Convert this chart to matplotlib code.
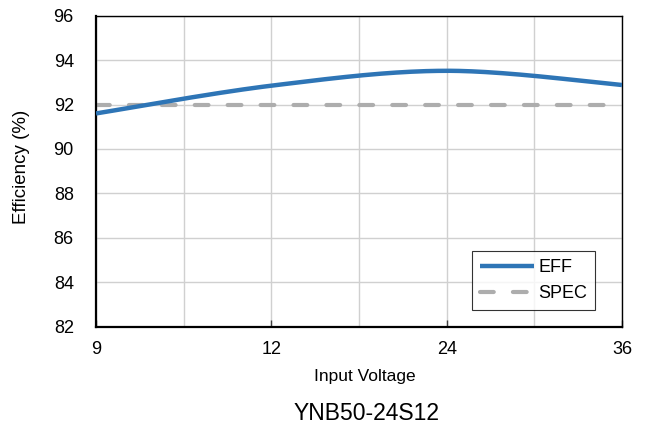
import numpy as np
import matplotlib
matplotlib.use("Agg")
import matplotlib.pyplot as plt

plt.rcParams['font.family'] = ['Liberation Sans', 'DejaVu Sans']

categories = ["9", "12", "24", "36"]
eff = [91.6, 92.85, 93.52, 92.88]
spec = [92.0, 92.0, 92.0, 92.0]
yticks = [82, 84, 86, 88, 90, 92, 94, 96]


def excel_smooth(xs, ys, n=60):
    xs = np.asarray(xs, float)
    ys = np.asarray(ys, float)
    P = np.column_stack([xs, ys])
    out = []
    m = len(P)
    for i in range(m - 1):
        p0 = P[i]
        p1 = P[i + 1]
        prev = P[i - 1] if i > 0 else P[i]
        nxt = P[i + 2] if i + 2 < m else P[i + 1]
        c1 = p0 + (p1 - prev) / 6.0
        c2 = p1 - (nxt - p0) / 6.0
        t = np.linspace(0, 1, n)[:, None]
        seg = ((1 - t) ** 3) * p0 + 3 * ((1 - t) ** 2) * t * c1 + 3 * (1 - t) * t ** 2 * c2 + t ** 3 * p1
        if i > 0:
            seg = seg[1:]
        out.append(seg)
    out = np.vstack(out)
    return out[:, 0], out[:, 1]


fig = plt.figure(figsize=(6.49, 4.28), dpi=100)
ax = fig.add_axes([96 / 649, 1 - 326.7 / 428, (622 - 96) / 649, (326.7 - 15.7) / 428])

xpos = np.arange(len(categories))
sx, sy = excel_smooth(xpos, eff)
ax.plot(sx, sy, color='#2E75B6', lw=3.2, label='EFF', solid_capstyle='butt', zorder=3)
ax.plot(xpos, spec, color='#ADADAD', lw=3.0, ls=(0, (3.3, 4.6)), label='SPEC',
        dash_capstyle='round', zorder=2)

ax.set_xlim(0, len(categories) - 1)
ax.set_ylim(82, 96)
ax.set_yticks(yticks)
ax.set_xticks(xpos)
ax.set_xticklabels(categories)
ax.set_xticks(np.arange(0.5, len(categories) - 1, 1.0), minor=True)

ax.grid(True, which='both', axis='x', color='#D0D0D0', lw=1.0)
ax.grid(True, which='major', axis='y', color='#D0D0D0', lw=1.0)
ax.set_axisbelow(True)

for s in ax.spines.values():
    s.set_color('black')
    s.set_linewidth(1.0)
ax.spines['left'].set_linewidth(1.6)
ax.spines['bottom'].set_linewidth(1.6)

ax.tick_params(axis='x', which='major', direction='in', length=5, width=1, color='#404040',
               labelsize=13, pad=10)
ax.tick_params(axis='x', which='minor', length=0)
ax.tick_params(axis='y', which='major', length=0, labelsize=13, pad=16)

fig.text(22 / 649, 1 - 167 / 428, 'Efficiency (%)', rotation=90, ha='center', va='center', fontsize=13.5)
fig.text(365 / 649, 1 - 377 / 428, 'Input Voltage', ha='center', va='center', fontsize=12.5)
fig.text(367 / 649, 1 - 413 / 428, 'YNB50-24S12', ha='center', va='center', fontsize=16.5)

leg = ax.legend(loc='lower right', bbox_to_anchor=((595 - 96) / 526, (326.7 - 310) / 311),
                frameon=True, fancybox=False, edgecolor='black', fontsize=13,
                handlelength=3.0, handletextpad=0.2, borderpad=0.45, labelspacing=0.5,
                borderaxespad=0)
leg.get_frame().set_linewidth(0.8)

fig.savefig('out.png', dpi=100)
